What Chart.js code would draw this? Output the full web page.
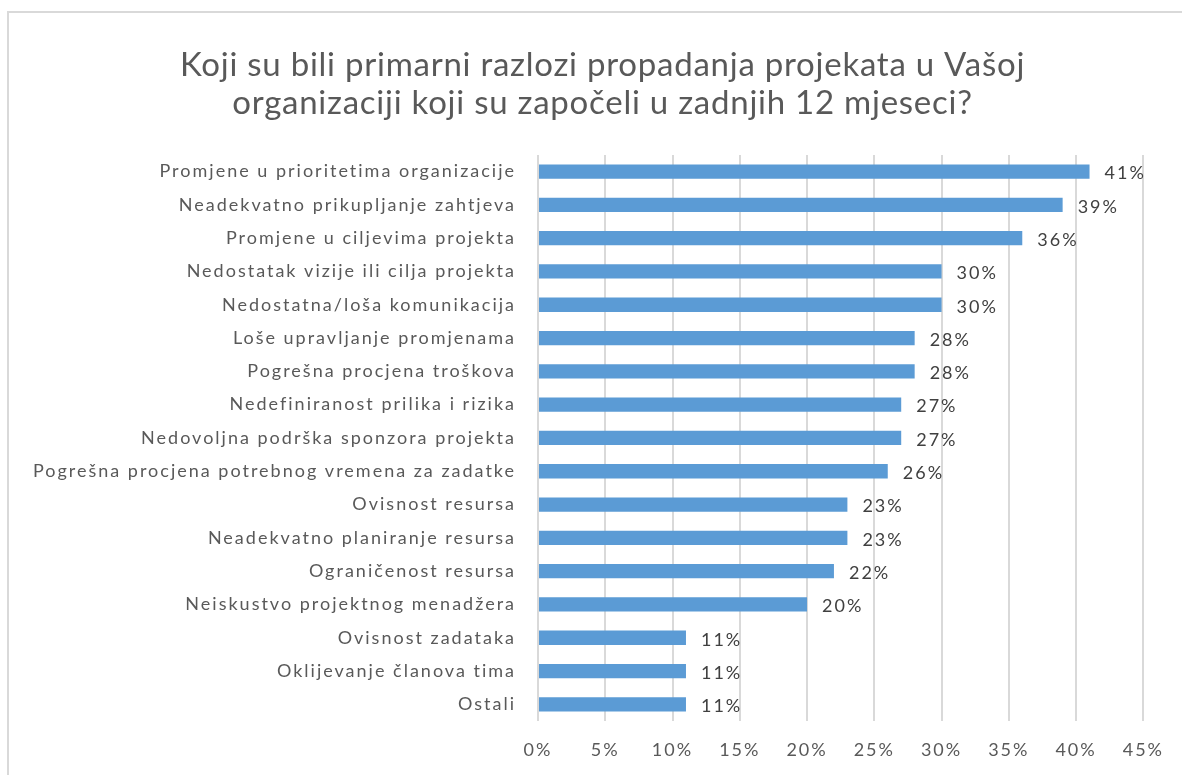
<!DOCTYPE html>
<html>
<head>
<meta charset="utf-8">
<script src="https://cdn.jsdelivr.net/npm/chart.js@4.4.0/dist/chart.umd.min.js"></script>
<style>
  html, body { margin: 0; padding: 0; background: #fff; }
  #frame {
    position: absolute;
    left: 7px;
    top: 11px;
    width: 1173px;
    height: 762px;
    border-left: 2px solid #d9d9d9;
    border-top: 2px solid #d9d9d9;
  }
  #graph { display: block; }
</style>
</head>
<body>
<div id="frame"><canvas id="graph" width="1173" height="762"></canvas></div>
<script>
const graphRef = document.getElementById('graph');

const titleLines = [
  'Koji su bili primarni razlozi propadanja projekata u Vašoj',
  'organizaciji koji su započeli u zadnjih 12 mjeseci?',
];

const reasons = [
  'Promjene u prioritetima organizacije',
  'Neadekvatno prikupljanje zahtjeva',
  'Promjene u ciljevima projekta',
  'Nedostatak vizije ili cilja projekta',
  'Nedostatna/loša komunikacija',
  'Loše upravljanje promjenama',
  'Pogrešna procjena troškova',
  'Nedefiniranost prilika i rizika',
  'Nedovoljna podrška sponzora projekta',
  'Pogrešna procjena potrebnog vremena za zadatke',
  'Ovisnost resursa',
  'Neadekvatno planiranje resursa',
  'Ograničenost resursa',
  'Neiskustvo projektnog menadžera',
  'Ovisnost zadataka',
  'Oklijevanje članova tima',
  'Ostali',
];

const shares = [41, 39, 36, 30, 30, 28, 28, 27, 27, 26, 23, 23, 22, 20, 11, 11, 11];

const axisMax = 45;
const axisStep = 5;

const textColor = '#595959';
const barColor = '#5b9bd5';
const gridColor = '#d9d9d9';
const fontFamily = 'Lato, "Open Sans", sans-serif';

// title is drawn with tight tracking, the labels (drawn later, z: 1) with loose tracking
const spacing = {
  id: 'spacing',
  beforeUpdate(chart) {
    chart.ctx.letterSpacing = '2px';
  },
  afterLayout(chart) {
    // nudge the title a bit right of the canvas centre
    chart.titleBlock.left += 24;
    chart.titleBlock.right += 24;
  },
  beforeDraw(chart) {
    chart.ctx.letterSpacing = '0.75px';
  },
  afterDatasetsDraw(chart) {
    chart.ctx.letterSpacing = '2px';
  },
};

// writes the percentage just past the end of each bar
const valueLabels = {
  id: 'valueLabels',
  afterDatasetsDraw(chart) {
    const { ctx } = chart;
    const meta = chart.getDatasetMeta(0);
    ctx.save();
    ctx.font = `18px ${fontFamily}`;
    ctx.fillStyle = '#404040';
    ctx.textAlign = 'left';
    ctx.textBaseline = 'middle';
    meta.data.forEach((bar, i) => {
      ctx.fillText(`${shares[i]}%`, bar.x + 15, bar.y + 2);
    });
    ctx.restore();
  },
};

new Chart(graphRef, {
  type: 'bar',
  data: {
    labels: reasons,
    datasets: [
      {
        data: shares,
        backgroundColor: barColor,
        borderWidth: 0,
        barPercentage: 0.43,
        categoryPercentage: 1,
      },
    ],
  },
  options: {
    indexAxis: 'y',
    responsive: false,
    animation: false,
    layout: { padding: { left: 0, right: 34, top: 0, bottom: 0 } },
    plugins: {
      legend: { display: false },
      tooltip: { enabled: false },
      title: {
        display: true,
        text: titleLines,
        color: textColor,
        font: { family: fontFamily, size: 33, weight: 'normal', lineHeight: 1.15 },
        padding: { top: 33, bottom: 33 },
      },
    },
    scales: {
      x: {
        min: 0,
        max: axisMax,
        ticks: {
          stepSize: axisStep,
          color: textColor,
          font: { family: fontFamily, size: 18 },
          padding: 18,
          z: 1,
          callback: (v) => `${v}%`,
        },
        grid: {
          color: gridColor,
          lineWidth: 2,
          drawTicks: false,
        },
        border: { display: false },
        afterFit(scale) {
          scale.height = 54;
        },
      },
      y: {
        ticks: {
          color: textColor,
          font: { family: fontFamily, size: 18 },
          padding: 22,
          z: 1,
          autoSkip: false,
        },
        grid: { display: false, drawTicks: false },
        border: { display: false },
        afterFit(scale) {
          scale.width = 529;
        },
      },
    },
  },
  plugins: [spacing, valueLabels],
});
</script>
</body>
</html>
